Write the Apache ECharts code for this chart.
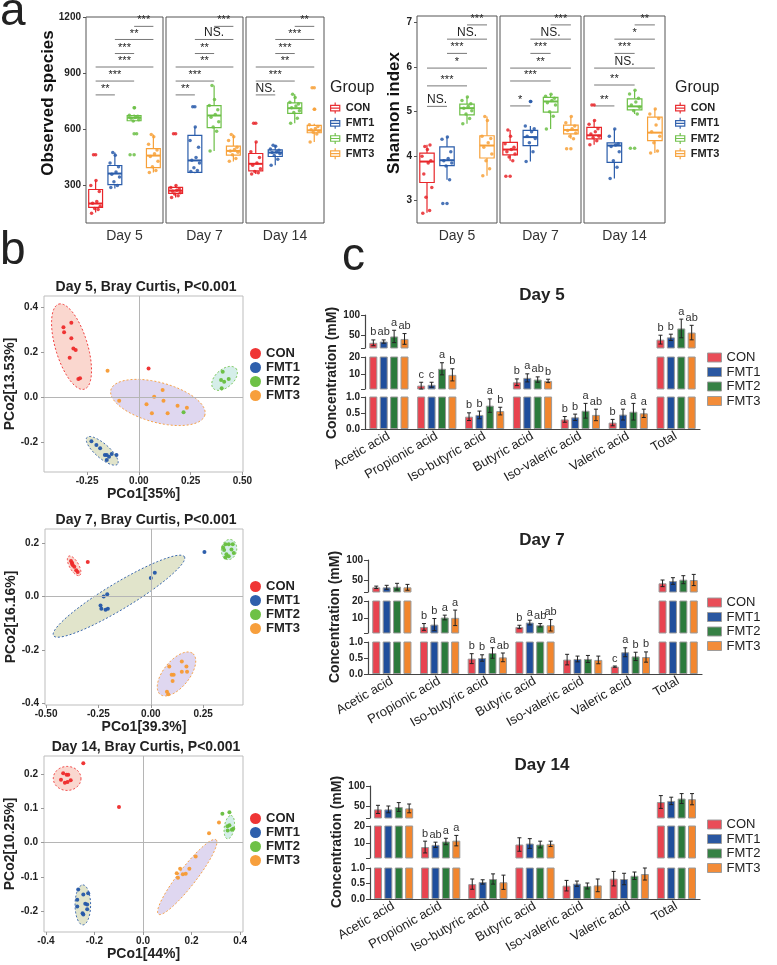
<!DOCTYPE html>
<html>
<head>
<meta charset="utf-8">
<title>FMT: alpha diversity, PCoA and SCFA</title>
<script src="https://cdn.jsdelivr.net/npm/echarts@6.0.0/dist/echarts.min.js"></script>
<style>
  html, body { margin: 0; padding: 0; background: #fff; }
  #main { width: 777px; height: 965px; }
</style>
</head>
<body>
<div id="main"></div>
<script>
var FONT = 'Liberation Sans, Arial, Helvetica, sans-serif';
var groups = ['CON', 'FMT1', 'FMT2', 'FMT3'];
var dayNames = ['Day 5', 'Day 7', 'Day 14'];

// ---- a: alpha diversity (box = [min, Q1, median, Q3, max]) ----
var obsTicks = [300, 600, 900, 1200];
var shanTicks = [3, 4, 5, 6, 7];

var obsBox5 = [[156, 183, 204, 279, 327], [284, 305, 364, 407, 476], [640, 646, 662, 673, 680], [369, 396, 460, 497, 572]];
var obsPts5 = [
  [152, 172, 178, 190, 205, 215, 268, 300, 327, 465],
  [290, 300, 320, 345, 360, 372, 400, 420, 462, 476],
  [465, 577, 645, 652, 660, 664, 670, 676, 715],
  [369, 380, 400, 430, 455, 470, 490, 520, 560, 572]
];
var obsOut5 = [[465], [], [715, 577, 465], []];

var obsBox7 = [[236, 258, 273, 290, 300], [365, 370, 434, 568, 612], [485, 609, 674, 727, 834], [429, 462, 485, 511, 573]];
var obsPts7 = [
  [236, 245, 255, 262, 270, 275, 282, 290, 300, 577],
  [375, 380, 395, 420, 435, 450, 505, 540, 612, 721],
  [485, 590, 612, 640, 665, 680, 705, 728, 760, 834],
  [430, 445, 465, 478, 485, 492, 505, 540, 560, 573]
];
var obsOut7 = [[577], [721], [], []];

var obsBox14 = [[361, 378, 416, 471, 533], [409, 455, 476, 490, 515], [632, 685, 713, 741, 788], [533, 582, 595, 621, 630]];
var obsPts14 = [
  [362, 368, 375, 390, 408, 420, 450, 480, 533, 632],
  [409, 440, 460, 470, 476, 480, 488, 495, 510, 515],
  [632, 660, 690, 700, 715, 725, 735, 745, 770, 788],
  [533, 575, 585, 590, 598, 605, 615, 625, 708, 822]
];
var obsOut14 = [[632], [], [], [822, 708]];

var shanBox5 = [[2.73, 3.41, 3.88, 4.07, 4.26], [3.47, 3.79, 3.91, 4.21, 4.44], [4.73, 4.93, 5.08, 5.17, 5.33], [3.56, 3.96, 4.24, 4.46, 4.89]];
var shanPts5 = [
  [2.72, 2.78, 3.08, 3.3, 3.6, 3.85, 3.9, 4.0, 4.15, 4.22, 4.25],
  [2.94, 3.47, 3.78, 3.85, 3.9, 3.95, 4.1, 4.38, 4.43],
  [4.73, 4.85, 4.95, 5.02, 5.08, 5.12, 5.18, 5.25, 5.33],
  [3.56, 3.72, 3.9, 4.05, 4.2, 4.3, 4.4, 4.45, 4.8, 4.89]
];
var shanOut5 = [[], [2.94], [], []];

var shanBox7 = [[3.9, 4.03, 4.15, 4.31, 4.59], [3.88, 4.24, 4.43, 4.58, 4.68], [4.61, 4.99, 5.23, 5.32, 5.39], [4.39, 4.5, 4.59, 4.7, 4.89]];
var shanPts7 = [
  [3.55, 3.9, 3.98, 4.05, 4.1, 4.15, 4.2, 4.28, 4.45, 4.59],
  [3.88, 4.1, 4.3, 4.4, 4.45, 4.55, 4.62, 4.68, 5.23],
  [4.61, 4.9, 5.0, 5.15, 5.2, 5.25, 5.3, 5.35, 5.39],
  [4.17, 4.39, 4.45, 4.52, 4.58, 4.62, 4.68, 4.75, 4.89]
];
var shanOut7 = [[3.55], [5.23], [], [4.17]];

var shanBox14 = [[4.26, 4.39, 4.47, 4.65, 4.8], [3.5, 3.86, 4.24, 4.3, 4.61], [4.95, 5.04, 5.12, 5.29, 5.48], [4.07, 4.35, 4.53, 4.88, 5.06]];
var shanPts14 = [
  [4.26, 4.35, 4.42, 4.45, 4.5, 4.55, 4.62, 4.72, 4.8, 5.15],
  [3.5, 3.75, 3.9, 4.1, 4.22, 4.25, 4.28, 4.45, 4.61],
  [4.18, 4.95, 5.02, 5.1, 5.15, 5.22, 5.3, 5.4, 5.48],
  [4.07, 4.12, 4.3, 4.45, 4.55, 4.7, 4.85, 4.95, 5.06]
];
var shanOut14 = [[5.15], [], [4.18], []];

// significance brackets: pairs and their heights / labels
var sigPairs = [[0, 1], [0, 2], [0, 3], [1, 2], [1, 3], [2, 3]];
var obsSigY = [784, 858, 933, 1005, 1080, 1150];
var shanSigY5 = [5.12, 5.58, 5.98, 6.31, 6.63, 6.95];
var shanSigY7 = [5.13, 5.69, 5.98, 6.31, 6.63, 6.95];
var shanSigY14 = [5.13, 5.6, 5.98, 6.31, 6.63, 6.95];
var obsSig5 = ['**', '***', '***', '***', '**', '***'];
var obsSig7 = ['**', '***', '**', '**', 'NS.', '***'];
var obsSig14 = ['NS.', '***', '**', '***', '***', '**'];
var shanSig5 = ['NS.', '***', '*', '***', 'NS.', '***'];
var shanSig7 = ['*', '***', '**', '***', 'NS.', '***'];
var shanSig14 = ['**', '**', 'NS.', '***', '*', '**'];

// ---- b: PCoA (Bray Curtis) ----
var pcoa5Con = [[-0.364, 0.310], [-0.361, 0.288], [-0.326, 0.330], [-0.326, 0.261], [-0.316, 0.216], [-0.305, 0.209], [-0.334, 0.175], [-0.292, 0.080], [-0.284, 0.083], [0.047, 0.127]];
var pcoa5Fmt1 = [[-0.229, -0.196], [-0.205, -0.213], [-0.187, -0.228], [-0.164, -0.258], [-0.155, -0.258], [-0.131, -0.253], [-0.108, -0.258], [-0.155, -0.280], [-0.144, -0.265]];
var pcoa5Fmt2 = [[0.405, 0.112], [0.397, 0.076], [0.412, 0.068], [0.434, 0.080], [0.400, 0.039], [0.216, -0.068]];
var pcoa5Fmt3 = [[-0.151, 0.117], [-0.095, -0.016], [0.037, -0.032], [0.074, 0.001], [0.115, 0.031], [0.119, -0.016], [0.139, -0.072], [0.187, -0.039], [0.232, -0.048], [0.063, -0.072]];
var pcoa7Con = [[-0.381, 0.133], [-0.376, 0.126], [-0.372, 0.117], [-0.365, 0.111], [-0.356, 0.098], [-0.349, 0.092], [-0.376, 0.123], [-0.301, 0.129]];
var pcoa7Fmt1 = [[-0.240, -0.034], [-0.236, -0.046], [-0.225, 0.0], [-0.208, 0.008], [-0.216, -0.050], [-0.205, -0.046], [0.0, 0.069], [0.019, 0.089], [0.256, 0.167]];
var pcoa7Fmt2 = [[0.356, 0.196], [0.372, 0.196], [0.391, 0.196], [0.350, 0.174], [0.385, 0.176], [0.361, 0.158], [0.372, 0.151], [0.396, 0.163], [0.356, 0.146], [0.345, 0.184]];
var pcoa7Fmt3 = [[0.088, -0.263], [0.0995, -0.294], [0.109, -0.294], [0.104, -0.317], [0.148, -0.282], [0.148, -0.244], [0.170, -0.263], [0.173, -0.282], [0.077, -0.357], [0.083, -0.367]];
var pcoa14Con = [[-0.329, 0.202], [-0.315, 0.197], [-0.308, 0.197], [-0.338, 0.183], [-0.322, 0.174], [-0.311, 0.176], [-0.298, 0.181], [-0.246, 0.231], [-0.099, 0.103]];
var pcoa14Fmt1 = [[-0.267, -0.137], [-0.246, -0.152], [-0.226, -0.148], [-0.271, -0.167], [-0.238, -0.179], [-0.230, -0.181], [-0.271, -0.187], [-0.249, -0.206], [-0.246, -0.210], [-0.230, -0.195]];
var pcoa14Fmt2 = [[0.327, 0.084], [0.356, 0.088], [0.356, 0.050], [0.349, 0.035], [0.366, 0.037], [0.372, 0.040], [0.348, 0.047]];
var pcoa14Fmt3 = [[0.272, 0.027], [0.217, -0.041], [0.191, -0.077], [0.153, -0.077], [0.139, -0.090], [0.164, -0.093], [0.176, -0.091], [0.144, -0.103], [0.313, 0.058]];
// ellipses: centre x, y, semi-axis A (dx, dy), semi-axis B (dx, dy)
var ell5 = [[-0.325, 0.224, -0.062, 0.189, 0.074, 0.021], [-0.177, -0.239, 0.074, -0.059, -0.022, -0.024], [0.414, 0.083, 0.055, 0.044, 0.0285, -0.030], [0.092, -0.024, 0.227, -0.056, -0.025, -0.086]];
var ell7 = [[-0.366, 0.115, 0.026, -0.036, 0.019, 0.0085], [-0.152, 0.001, 0.3125, 0.148, 0.032, -0.042], [0.3735, 0.176, 0.0072, 0.0377, 0.036, -0.0038], [0.1226, -0.2906, 0.078, 0.0766, 0.0486, -0.0306]];
var ell14 = [[-0.3126, 0.1866, 0.057, 0, 0, -0.035], [-0.248, -0.182, 0, 0.0583, 0.032, 0], [0.3555, 0.0446, 0.0062, 0.0341, 0.0206, 0], [0.1823, -0.1006, 0.1188, 0.1085, 0.0293, -0.016]];
var pcoaTitles = ['Day 5, Bray Curtis, P<0.001', 'Day 7, Bray Curtis, P<0.001', 'Day 14, Bray Curtis, P<0.001'];
var pcoaXName = ['PCo1[35%]', 'PCo1[39.3%]', 'PCo1[44%]'];
var pcoaYName = ['PCo2[13.53%]', 'PCo2[16.16%]', 'PCo2[10.25%]'];
var pcoaXTicks = [[-0.25, 0, 0.25, 0.5], [-0.5, -0.25, 0, 0.25], [-0.4, -0.2, 0, 0.2, 0.4]];
var pcoaYTicks = [[-0.2, 0, 0.2, 0.4], [-0.4, -0.2, 0, 0.2], [-0.2, -0.1, 0, 0.1, 0.2]];

// ---- c: SCFA concentration (mM), rows = CON, FMT1, FMT2, FMT3 ----
var acids = ['Acetic acid', 'Propionic acid', 'Iso-butyric acid', 'Butyric acid', 'Iso-valeric acid', 'Valeric acid', 'Total'];
var scfaMeanD5 = [
  [32.6, 3.0, 0.385, 5.0, 0.30, 0.20, 40.3],
  [35.6, 3.5, 0.44, 7.6, 0.365, 0.45, 45.8],
  [48.0, 13.0, 0.73, 6.6, 0.57, 0.54, 67.4],
  [42.0, 9.4, 0.56, 5.8, 0.44, 0.49, 57.4]
];
var scfaSdD5 = [
  [7, 2, 0.12, 2, 0.09, 0.1, 10.7],
  [4, 1.5, 0.12, 2.4, 0.1, 0.17, 7.7],
  [15, 3.6, 0.21, 1.6, 0.23, 0.26, 22.6],
  [13, 3.6, 0.12, 1.0, 0.18, 0.13, 17.6]
];
var scfaLetD5 = [
  ['b', 'c', 'b', 'b', 'b', 'b', 'b'],
  ['ab', 'c', 'b', 'a', 'b', 'a', 'b'],
  ['a', 'a', 'a', 'ab', 'a', 'a', 'a'],
  ['ab', 'b', 'b', 'b', 'ab', 'a', 'ab']
];
var scfaMeanD7 = [
  [31.7, 4.6, 0.48, 4.6, 0.45, 0.23, 41.7],
  [31.7, 6.0, 0.5, 7.2, 0.47, 0.68, 47.5],
  [33.3, 10.2, 0.656, 5.6, 0.47, 0.55, 50.8],
  [31.7, 10.0, 0.52, 5.6, 0.44, 0.53, 50.0]
];
var scfaSdD7 = [
  [3, 2, 0.155, 1, 0.165, 0.02, 8.3],
  [5, 3.6, 0.1, 1.4, 0.09, 0.14, 8.3],
  [8.4, 1.4, 0.164, 1, 0.11, 0.13, 10],
  [7.3, 4.6, 0.136, 3.4, 0.12, 0.16, 14]
];
var scfaLetD7 = [
  ['', 'b', 'b', 'b', '', 'c', ''],
  ['', 'b', 'b', 'a', '', 'a', ''],
  ['', 'a', 'a', 'ab', '', 'b', ''],
  ['', 'a', 'ab', 'ab', '', 'b', '']
];
var scfaMeanD14 = [
  [41.5, 7.5, 0.48, 9.0, 0.43, 0.656, 60.0],
  [41.5, 8.8, 0.55, 9.6, 0.495, 0.645, 62.7],
  [47.5, 10.8, 0.645, 9.0, 0.42, 0.75, 68.6],
  [44.0, 11.3, 0.54, 9.4, 0.44, 0.806, 67.0]
];
var scfaSdD14 = [
  [10.2, 3.5, 0.165, 4, 0.17, 0.234, 16],
  [8.5, 1.6, 0.07, 2.9, 0.085, 0.185, 9.3],
  [11, 1.9, 0.165, 2, 0.096, 0.12, 12.4],
  [11, 3.1, 0.23, 1.6, 0.205, 0.194, 14]
];
var scfaLetD14 = [
  ['', 'b', '', '', '', '', ''],
  ['', 'ab', '', '', '', '', ''],
  ['', 'a', '', '', '', '', ''],
  ['', 'a', '', '', '', '', '']
];

// colours
var boxColors = ['#E8262A', '#2A5CAA', '#6CBF46', '#F7A13A'];
var dotColors = ['#EE2A2A', '#2356A8', '#66BE3C', '#F79A32'];
var ellFill = ['rgba(246,176,160,0.5)', 'rgba(200,206,160,0.55)', 'rgba(172,222,212,0.5)', 'rgba(196,182,228,0.55)'];
var barColors = ['#E8434F', '#1F4E9C', '#2B7A3B', '#F2862E'];
var jitter = [-0.21, 0.13, -0.05, 0.24, -0.16, 0.06, 0.19, -0.25, 0.02, -0.11, 0.15, -0.02];

var chart = echarts.init(document.getElementById('main'));

var grids = [], xAxes = [], yAxes = [], series = [], legends = [], titles = [];

// 箱线图 (custom: whiskers without caps, like ggplot)
function renderBox(params, api) {
  var i = api.value(0);
  var lo = api.coord([i, api.value(1)]);
  var q1 = api.coord([i, api.value(2)]);
  var md = api.coord([i, api.value(3)]);
  var q3 = api.coord([i, api.value(4)]);
  var hi = api.coord([i, api.value(5)]);
  var hw = api.size([1, 0])[0] * 0.36;
  var c = boxColors[i];
  var ls = {stroke: c, lineWidth: 1.2};
  return {type: 'group', children: [
    {type: 'line', shape: {x1: lo[0], y1: lo[1], x2: q1[0], y2: q1[1]}, style: ls},
    {type: 'line', shape: {x1: q3[0], y1: q3[1], x2: hi[0], y2: hi[1]}, style: ls},
    {type: 'rect', shape: {x: q1[0] - hw, y: q3[1], width: hw * 2, height: q1[1] - q3[1]}, style: {fill: '#fff', stroke: c, lineWidth: 1.2}},
    {type: 'line', shape: {x1: md[0] - hw, y1: md[1], x2: md[0] + hw, y2: md[1]}, style: {stroke: c, lineWidth: 2}}
  ]};
}

// 显著性标记
function makeSig(labels) {
  return function (params, api) {
    var a = api.coord([api.value(0), api.value(2)]);
    var b = api.coord([api.value(1), api.value(2)]);
    var t = labels[params.dataIndex];
    return {type: 'group', children: [
      {type: 'line', shape: {x1: a[0], y1: a[1], x2: b[0], y2: b[1]}, style: {stroke: '#555', lineWidth: 0.8}},
      {type: 'text', x: (a[0] + b[0]) / 2, y: a[1] - 0.5, style: {text: t, textAlign: 'center', textVerticalAlign: 'bottom', fill: '#222', font: (t === 'NS.' ? '12px ' : '11px ') + FONT}}
    ]};
  };
}

function plainNum(v) { return String(v); }

// ---------- panel a ----------
var facetList = [
  [obsBox5, obsPts5, obsOut5, obsSigY, obsSig5],
  [obsBox7, obsPts7, obsOut7, obsSigY, obsSig7],
  [obsBox14, obsPts14, obsOut14, obsSigY, obsSig14],
  [shanBox5, shanPts5, shanOut5, shanSigY5, shanSig5],
  [shanBox7, shanPts7, shanOut7, shanSigY7, shanSig7],
  [shanBox14, shanPts14, shanOut14, shanSigY14, shanSig14]
];
var facetRects = [[86, 17, 77, 206], [166, 17, 77, 206], [246, 17, 78, 206], [417, 16, 80, 207], [500, 16, 81, 207], [584, 16, 81, 207]];

facetList.forEach(function (f, k) {
  var r = facetRects[k];
  var isObs = k < 3;
  var first = k % 3 === 0;
  var ticks = isObs ? obsTicks : shanTicks;
  grids.push({left: r[0], top: r[1], width: r[2], height: r[3], show: true, borderColor: '#555', borderWidth: 1, backgroundColor: 'transparent'});
  xAxes.push({
    type: 'value', gridIndex: k, min: -0.5, max: 3.5,
    axisLine: {show: false, onZero: false}, axisTick: {show: false}, axisLabel: {show: false}, splitLine: {show: false},
    name: dayNames[k % 3], nameLocation: 'middle', nameGap: 6,
    nameTextStyle: {fontSize: 14, color: '#333', fontFamily: FONT}
  });
  yAxes.push({
    type: 'value', gridIndex: k, min: isObs ? 100 : 2.5, max: isObs ? 1200 : 7.15,
    axisLine: {show: false, onZero: false}, splitLine: {show: false},
    axisTick: {show: first, customValues: ticks, length: 3, lineStyle: {color: '#555'}},
    axisLabel: {show: first, customValues: ticks, fontSize: 10, fontWeight: 'bold', color: '#222', margin: 5, formatter: plainNum}
  });
  series.push({
    type: 'custom', xAxisIndex: k, yAxisIndex: k, renderItem: renderBox, silent: true, z: 2,
    data: f[0].map(function (b, i) { return [i].concat(b); })
  });
  var pts = [];
  f[1].forEach(function (arr, i) {
    arr.forEach(function (v, j) { pts.push([i + jitter[j % jitter.length], v, i]); });
  });
  f[2].forEach(function (arr, i) {
    arr.forEach(function (v) { pts.push([i, v, i]); });
  });
  series.push({
    type: 'scatter', xAxisIndex: k, yAxisIndex: k, symbolSize: 3.5, silent: true, z: 3, data: pts,
    itemStyle: {color: function (p) { return boxColors[p.value[2]]; }, opacity: 0.85}
  });
  series.push({
    type: 'custom', xAxisIndex: k, yAxisIndex: k, renderItem: makeSig(f[4]), silent: true, z: 3,
    data: sigPairs.map(function (p, i) { return [p[0], p[1], f[3][i]]; })
  });
});

var boxIcon = 'path://M0,3L10,3L10,9L0,9Z M5,0L5,3 M5,9L5,12 M0,6L10,6';
[330, 675].forEach(function (lx) {
  legends.push({
    left: lx, top: 102, orient: 'vertical', padding: 0, itemGap: 3, itemWidth: 11, itemHeight: 11,
    selectedMode: false, icon: boxIcon,
    textStyle: {fontSize: 11, fontWeight: 'bold', color: '#222', fontFamily: FONT},
    data: groups.map(function (g, i) {
      return {name: g, itemStyle: {color: '#fff', borderColor: boxColors[i], borderWidth: 1.2}};
    })
  });
  titles.push({text: 'Group', left: lx, top: 88, padding: 0, textAlign: 'left', textVerticalAlign: 'middle',
    textStyle: {fontSize: 16, fontWeight: 'normal', color: '#222', fontFamily: FONT}});
});

// ---------- panel b ----------
function renderEllipse(params, api) {
  var cx = api.value(0), cy = api.value(1), ax = api.value(2), ay = api.value(3), bx = api.value(4), by = api.value(5);
  var pts = [];
  for (var s = 0; s < 90; s++) {
    var t = s / 90 * Math.PI * 2;
    pts.push(api.coord([cx + ax * Math.cos(t) + bx * Math.sin(t), cy + ay * Math.cos(t) + by * Math.sin(t)]));
  }
  var g = params.dataIndex;
  return {type: 'polygon', shape: {points: pts}, style: {fill: ellFill[g], stroke: dotColors[g], lineWidth: 0.9, lineDash: [2, 2]}};
}

var pcoaSets = [
  [[pcoa5Con, pcoa5Fmt1, pcoa5Fmt2, pcoa5Fmt3], ell5],
  [[pcoa7Con, pcoa7Fmt1, pcoa7Fmt2, pcoa7Fmt3], ell7],
  [[pcoa14Con, pcoa14Fmt1, pcoa14Fmt2, pcoa14Fmt3], ell14]
];
var pcoaRects = [[44, 296, 199, 176], [45, 529, 198, 176], [44, 756, 199, 176]];
var pcoaXRange = [[-0.458, 0.503], [-0.505, 0.44], [-0.408, 0.412]];
var pcoaYRange = [[-0.333, 0.449], [-0.407, 0.253], [-0.261, 0.252]];
var pcoaTitleY = [287, 520, 747];
var pcoaLegendTop = [347, 580, 812];

pcoaSets.forEach(function (set, d) {
  var gi = grids.length;
  var r = pcoaRects[d];
  grids.push({left: r[0], top: r[1], width: r[2], height: r[3], show: true, borderColor: '#bdbdbd', borderWidth: 1, backgroundColor: 'transparent'});
  xAxes.push({
    type: 'value', gridIndex: gi, min: pcoaXRange[d][0], max: pcoaXRange[d][1],
    axisLine: {show: false, onZero: false}, splitLine: {show: false},
    axisTick: {show: true, customValues: pcoaXTicks[d], length: 3, lineStyle: {color: '#999'}},
    axisLabel: {customValues: pcoaXTicks[d], fontSize: 10, fontWeight: 'bold', color: '#222', margin: 4,
      formatter: function (v) { return v.toFixed(d === 2 ? 1 : 2); }},
    name: pcoaXName[d], nameLocation: 'middle', nameGap: 15,
    nameTextStyle: {fontSize: 14, fontWeight: 'bold', color: '#222', fontFamily: FONT}
  });
  yAxes.push({
    type: 'value', gridIndex: gi, min: pcoaYRange[d][0], max: pcoaYRange[d][1],
    axisLine: {show: false, onZero: false}, splitLine: {show: false},
    axisTick: {show: true, customValues: pcoaYTicks[d], length: 3, lineStyle: {color: '#999'}},
    axisLabel: {customValues: pcoaYTicks[d], fontSize: 10, fontWeight: 'bold', color: '#222', margin: 6,
      formatter: function (v) { return v.toFixed(1); }},
    name: pcoaYName[d], nameLocation: 'middle', nameGap: 24,
    nameTextStyle: {fontSize: 14, fontWeight: 'bold', color: '#222', fontFamily: FONT}
  });
  series.push({
    type: 'custom', xAxisIndex: gi, yAxisIndex: gi, renderItem: renderEllipse, silent: true, z: 1,
    data: set[1]
  });
  set[0].forEach(function (pts, i) {
    var s = {
      type: 'scatter', name: groups[i], xAxisIndex: gi, yAxisIndex: gi, symbolSize: 4, silent: true, z: 3,
      itemStyle: {color: dotColors[i], opacity: 0.95}, data: pts
    };
    if (i === 0) {
      s.markLine = {silent: true, symbol: ['none', 'none'], label: {show: false}, animation: false,
        lineStyle: {color: '#b5b5b5', width: 1, type: 'solid'}, data: [{xAxis: 0}, {yAxis: 0}]};
    }
    series.push(s);
  });
  titles.push({text: pcoaTitles[d], left: 146, top: pcoaTitleY[d], padding: 0, textAlign: 'center', textVerticalAlign: 'middle',
    textStyle: {fontSize: 14, fontWeight: 'bold', color: '#222', fontFamily: FONT}});
  legends.push({
    left: 250, top: pcoaLegendTop[d], orient: 'vertical', padding: 0, itemGap: 1, itemWidth: 11, itemHeight: 11,
    selectedMode: false, icon: 'circle',
    textStyle: {fontSize: 13, fontWeight: 'bold', color: '#222', fontFamily: FONT},
    data: groups.map(function (g, i) { return {name: g, itemStyle: {color: dotColors[i]}}; })
  });
});

// ---------- panel c (broken y axis = 3 stacked grids) ----------
var scfaDays = [
  [scfaMeanD5, scfaSdD5, scfaLetD5],
  [scfaMeanD7, scfaSdD7, scfaLetD7],
  [scfaMeanD14, scfaSdD14, scfaLetD14]
];
var segRanges = [[20, 100], [1, 20], [0, 1]];
var segTicks = [[20, 50, 100], [1, 10, 20], [0, 0.5, 1]];
var segLabels = [[50, 100], [10, 20], [0, 0.5, 1]];
var cLayout = [
  {left: 365, width: 335, tops: [315, 357, 397], heights: [33, 32, 32], title: 295, legend: 351},
  {left: 368, width: 334, tops: [560, 601, 642], heights: [32, 32, 32], title: 540, legend: 596},
  {left: 370, width: 330, tops: [786, 826, 868], heights: [32, 32, 31], title: 765, legend: 818}
];
var BAR_W = 8, BAR_PITCH = 10.4;

function makeErr(lets) {
  return function (params, api) {
    var c = api.value(0), m = api.value(1), sd = api.value(2), g = api.value(3);
    var top = api.coord([c, m + sd]);
    var bot = api.coord([c, Math.max(m - sd, 0)]);
    var x = top[0] + (g - 1.5) * BAR_PITCH;
    var st = {stroke: '#222', lineWidth: 1};
    var ch = [
      {type: 'line', shape: {x1: x, y1: top[1], x2: x, y2: bot[1]}, style: st},
      {type: 'line', shape: {x1: x - 2, y1: top[1], x2: x + 2, y2: top[1]}, style: st},
      {type: 'line', shape: {x1: x - 2, y1: bot[1], x2: x + 2, y2: bot[1]}, style: st}
    ];
    var t = lets[params.dataIndex];
    if (t) {
      ch.push({type: 'text', x: x, y: top[1] - 2, style: {text: t, textAlign: 'center', textVerticalAlign: 'bottom', fill: '#333', font: '11px ' + FONT}});
    }
    return {type: 'group', children: ch};
  };
}

scfaDays.forEach(function (day, d) {
  var L = cLayout[d];
  for (var s = 0; s < 3; s++) {
    var gi = grids.length;
    grids.push({left: L.left, top: L.tops[s], width: L.width, height: L.heights[s]});
    xAxes.push({
      type: 'category', gridIndex: gi, data: acids, show: s === 2,
      axisLine: {lineStyle: {color: '#444', width: 1.2}},
      axisTick: {alignWithLabel: true, length: 4, lineStyle: {color: '#444'}},
      axisLabel: {rotate: 30, interval: 0, fontSize: 13, color: '#222', margin: 6, fontFamily: FONT}
    });
    var yA = {
      type: 'value', gridIndex: gi, min: segRanges[s][0], max: segRanges[s][1],
      splitLine: {show: false},
      axisLine: {show: true, onZero: false, lineStyle: {color: '#444', width: 1.2}},
      axisTick: {show: true, customValues: segTicks[s], length: 4, lineStyle: {color: '#444'}},
      axisLabel: {customValues: segLabels[s], fontSize: 10, fontWeight: 'bold', color: '#222', margin: 5,
        formatter: s === 2 ? function (v) { return v.toFixed(1); } : plainNum}
    };
    if (s === 1) {
      yA.name = 'Concentration (mM)';
      yA.nameLocation = 'middle';
      yA.nameGap = 26;
      yA.nameTextStyle = {fontSize: 14, fontWeight: 'bold', color: '#222', fontFamily: FONT};
    }
    yAxes.push(yA);
    var errData = [], errLets = [];
    for (var g = 0; g < 4; g++) {
      series.push({
        type: 'bar', name: groups[g], xAxisIndex: gi, yAxisIndex: gi, data: day[0][g],
        barWidth: BAR_W, barGap: '30%', clip: true, silent: true,
        itemStyle: {color: barColors[g], borderColor: '#9a9a9a', borderWidth: 1}
      });
      for (var c = 0; c < acids.length; c++) {
        var m = day[0][g][c];
        var inSeg = s === 0 ? m > 20 : (s === 1 ? (m > 1 && m <= 20) : m <= 1);
        if (inSeg) {
          errData.push([c, m, day[1][g][c], g]);
          errLets.push(day[2][g][c]);
        }
      }
    }
    series.push({type: 'custom', xAxisIndex: gi, yAxisIndex: gi, renderItem: makeErr(errLets), data: errData, silent: true, z: 4});
  }
  titles.push({text: dayNames[d], left: 542, top: L.title, padding: 0, textAlign: 'center', textVerticalAlign: 'middle',
    textStyle: {fontSize: 17, fontWeight: 'bold', color: '#222', fontFamily: FONT}});
  legends.push({
    left: 707, top: L.legend, orient: 'vertical', padding: 0, itemGap: 1.5, itemWidth: 14, itemHeight: 9,
    selectedMode: false, icon: 'rect',
    textStyle: {fontSize: 13, color: '#222', fontFamily: FONT},
    data: groups.map(function (g, i) { return {name: g, itemStyle: {color: barColors[i], borderColor: '#9a9a9a', borderWidth: 1}}; })
  });
});

var option = {
  animation: false,
  backgroundColor: '#fff',
  textStyle: {fontFamily: FONT},
  title: titles,
  legend: legends,
  grid: grids,
  xAxis: xAxes,
  yAxis: yAxes,
  series: series,
  graphic: [
    {type: 'text', x: 0, y: 12, style: {text: 'a', font: '46px ' + FONT, fill: '#222', textVerticalAlign: 'middle'}},
    {type: 'text', x: 0, y: 251, style: {text: 'b', font: '46px ' + FONT, fill: '#222', textVerticalAlign: 'middle'}},
    {type: 'text', x: 342, y: 257, style: {text: 'c', font: '46px ' + FONT, fill: '#222', textVerticalAlign: 'middle'}},
    {type: 'text', x: 48, y: 103, rotation: Math.PI / 2, style: {text: 'Observed species', font: 'bold 17px ' + FONT, fill: '#111', textAlign: 'center', textVerticalAlign: 'middle'}},
    {type: 'text', x: 394, y: 113, rotation: Math.PI / 2, style: {text: 'Shannon index', font: 'bold 17px ' + FONT, fill: '#111', textAlign: 'center', textVerticalAlign: 'middle'}}
  ]
};

chart.setOption(option);
</script>
</body>
</html>
